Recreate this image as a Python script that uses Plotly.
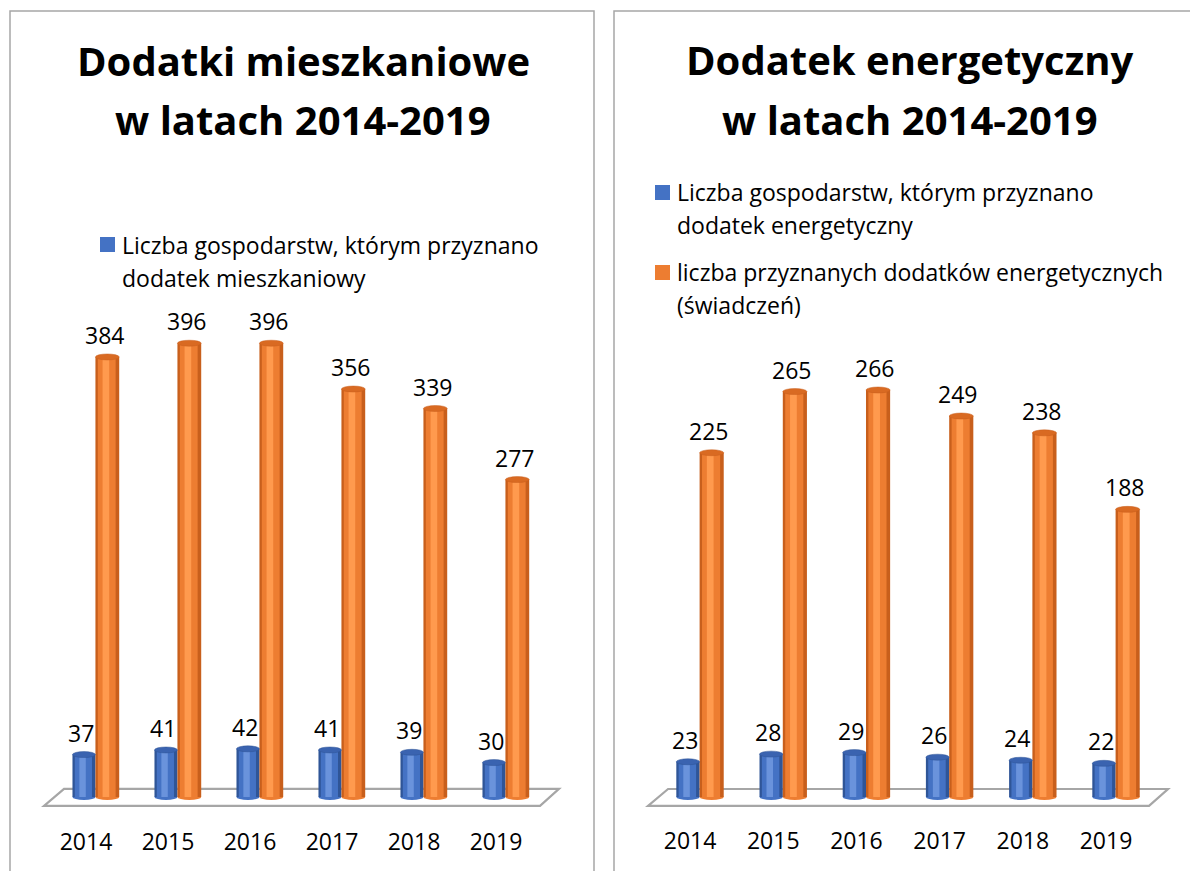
import plotly.graph_objects as go

# ---------------- data ----------------
years = ["2014", "2015", "2016", "2017", "2018", "2019"]

housing_households = [37, 41, 42, 41, 39, 30]
housing_benefits = [384, 396, 396, 356, 339, 277]

energy_households = [23, 28, 29, 26, 24, 22]
energy_benefits = [225, 265, 266, 249, 238, 188]

title_left = ["Dodatki mieszkaniowe", "w latach 2014-2019"]
title_right = ["Dodatek energetyczny", "w latach 2014-2019"]
legend_left = [["Liczba gospodarstw, którym przyznano", "dodatek mieszkaniowy"]]
legend_right = [["Liczba gospodarstw, którym przyznano", "dodatek energetyczny"],
                ["liczba przyznanych dodatków energetycznych", "(świadczeń)"]]

# ---------------- styles ----------------
W, H = 1190, 871
FONT = "Open Sans"
BLUE = dict(edge="#2F5597", main="#4472C4", light="#6A93DC", top="#3A63B0")
ORANGE = dict(edge="#C85F1C", main="#ED7D31", light="#FF9A4E", top="#D96A22")
GREY = "#A6A6A6"


def X(px):
    return px / W


def Y(py):
    return (H - py) / H


fig = go.Figure()
xs = list(range(len(years)))


def add_cylinders(values, col, offset, width, xa, ya, ell_h, name):
    xref = "x" if xa == "x" else "x2"
    yref = "y" if ya == "y" else "y2"
    # base (dark edges)
    fig.add_trace(go.Bar(
        x=xs, y=values, offset=offset, width=width, xaxis=xa, yaxis=ya,
        marker=dict(color=col["edge"], line=dict(width=0)), name=name,
        showlegend=False, hoverinfo="x+y"))
    # main body
    fig.add_trace(go.Bar(
        x=xs, y=values, offset=offset + 0.10 * width, width=0.75 * width,
        xaxis=xa, yaxis=ya, marker=dict(color=col["main"], line=dict(width=0)),
        showlegend=False, hoverinfo="skip"))
    # highlight
    fig.add_trace(go.Bar(
        x=xs, y=values, offset=offset + 0.30 * width, width=0.28 * width,
        xaxis=xa, yaxis=ya, marker=dict(color=col["light"], line=dict(width=0)),
        showlegend=False, hoverinfo="skip"))
    for i, v in enumerate(values):
        # top cap
        fig.add_shape(type="circle", xref=xref, yref=yref,
                      x0=i + offset, x1=i + offset + width,
                      y0=v - ell_h / 2, y1=v + ell_h / 2,
                      fillcolor=col["top"], line=dict(color=col["edge"], width=0.5),
                      layer="above")
        # rounded bottom
        fig.add_shape(type="circle", xref=xref, yref=yref,
                      x0=i + offset, x1=i + offset + width,
                      y0=-ell_h / 2, y1=ell_h / 2,
                      fillcolor=col["main"], line=dict(width=0),
                      layer="below")
        # data label
        fig.add_annotation(text=str(v), xref=xref, yref=yref,
                           x=i + offset + width / 2 - 0.04, y=v,
                           xanchor="center", yanchor="bottom", yshift=4,
                           showarrow=False,
                           font=dict(family=FONT, size=23, color="black"))


# floors (drawn first, below)
fig.add_shape(type="path", xref="x", yref="y",
              path="M -0.512,-7.8 L 5.537,-7.8 L 5.768,7.0 L -0.268,7.0 Z",
              fillcolor="white", line=dict(color=GREY, width=2.2), layer="below")
fig.add_shape(type="path", xref="x2", yref="y2",
              path="M -0.505,-5.8 L 5.517,-5.8 L 5.745,5.2 L -0.264,5.2 Z",
              fillcolor="white", line=dict(color=GREY, width=2.2), layer="below")

add_cylinders(housing_households, BLUE, -0.165, 0.28, "x", "y", 5.2,
              "Liczba gospodarstw, którym przyznano dodatek mieszkaniowy")
add_cylinders(housing_benefits, ORANGE, 0.115, 0.29, "x", "y", 5.2,
              "liczba przyznanych dodatków mieszkaniowych")
add_cylinders(energy_households, BLUE, -0.165, 0.28, "x2", "y2", 3.9,
              "Liczba gospodarstw, którym przyznano dodatek energetyczny")
add_cylinders(energy_benefits, ORANGE, 0.115, 0.29, "x2", "y2", 3.9,
              "liczba przyznanych dodatków energetycznych (świadczeń)")

axis_x = dict(tickmode="array", tickvals=xs, ticktext=years, showgrid=False,
              zeroline=False, showline=False, ticks="",
              tickfont=dict(family=FONT, size=23, color="black"), fixedrange=True)
axis_y = dict(visible=False, showgrid=False, zeroline=False, fixedrange=True)

fig.update_layout(
    width=W, height=H, margin=dict(l=0, r=0, t=0, b=0),
    paper_bgcolor="white", plot_bgcolor="rgba(0,0,0,0)",
    barmode="overlay", showlegend=False,
    font=dict(family=FONT, color="black"),
    xaxis=dict(axis_x, domain=[X(28.6), X(569.8)], range=[-0.7, 5.9], anchor="y"),
    yaxis=dict(axis_y, domain=[Y(825.6), Y(315.7)], range=[-25, 420], anchor="x"),
    xaxis2=dict(axis_x, domain=[X(631.8), X(1180.9)], range=[-0.7, 5.9], anchor="y2"),
    yaxis2=dict(axis_y, domain=[Y(824.5), Y(299.75)], range=[-18, 325], anchor="x2"),
)

# panel borders
fig.add_shape(type="rect", xref="paper", yref="paper",
              x0=X(10), x1=X(594), y0=Y(900), y1=Y(11),
              line=dict(color=GREY, width=1.5), layer="below")
fig.add_shape(type="rect", xref="paper", yref="paper",
              x0=X(614), x1=X(1220), y0=Y(900), y1=Y(11),
              line=dict(color=GREY, width=1.5), layer="below")

# titles
for txt, cy in zip(title_left, [61, 120]):
    fig.add_annotation(text="<b>" + txt + "</b>", xref="paper", yref="paper",
                       x=X(303), y=Y(cy), xanchor="center", yanchor="middle",
                       showarrow=False, font=dict(family=FONT, size=40, color="black"))
for txt, cy in zip(title_right, [60, 119]):
    fig.add_annotation(text="<b>" + txt + "</b>", xref="paper", yref="paper",
                       x=X(910), y=Y(cy), xanchor="center", yanchor="middle",
                       showarrow=False, font=dict(family=FONT, size=40, color="black"))


# manual legends
def legend_entry(lines, color, sq_x, sq_cy, text_x, line_cys):
    fig.add_shape(type="rect", xref="paper", yref="paper",
                  x0=X(sq_x), x1=X(sq_x + 15), y0=Y(sq_cy + 7.5), y1=Y(sq_cy - 7.5),
                  fillcolor=color, line=dict(width=0))
    for ln, cy in zip(lines, line_cys):
        fig.add_annotation(text=ln, xref="paper", yref="paper",
                           x=X(text_x), y=Y(cy), xanchor="left", yanchor="middle",
                           showarrow=False, font=dict(family=FONT, size=23, color="black"))


legend_entry(legend_left[0], BLUE["main"], 100, 244.5, 120, [245, 278])
legend_entry(legend_right[0], BLUE["main"], 655, 192.5, 675, [192, 225])
legend_entry(legend_right[1], ORANGE["main"], 655, 272.5, 675, [272, 305])

fig.write_html(
    "out.html",
    config={"displayModeBar": False},
    post_script="document.body.style.margin='0';document.body.style.overflow='hidden';",
)
